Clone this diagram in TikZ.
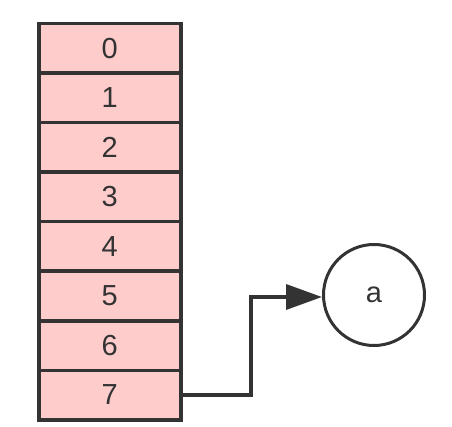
\documentclass[tikz,border=0pt]{standalone}
\usepackage{fontspec}
\setmainfont{Liberation Sans}
\usetikzlibrary{arrows.meta}
\definecolor{cellfill}{HTML}{FFCCCC}
\definecolor{ink}{HTML}{333333}
\tikzset{
  cell/.style={draw=ink, line width=3.5pt, fill=cellfill, minimum width=142pt, minimum height=49.5pt, inner sep=0pt, font=\fontsize{29}{29}\selectfont, text=ink, anchor=north west},
  elem/.style={circle, draw=ink, line width=3pt, minimum size=101pt, inner sep=0pt, font=\fontsize{29}{29}\selectfont, text=ink},
  link/.style={draw=ink, line width=3.5pt, -{Triangle[length=36pt,width=25pt]}}
}
\begin{document}
\begin{tikzpicture}[x=1pt,y=-1pt]
\useasboundingbox (0,0) rectangle (452,427);
\foreach \i in {0,...,7} {
  \node[cell] (c\i) at (37,{22+49.5*\i}) {\i};
}
\node[elem] (a) at (374,295) {a};
\draw[link] (c7.east) -- (251,395) -- (251,297) -- (a.west |- 0,297);
\end{tikzpicture}
\end{document}
